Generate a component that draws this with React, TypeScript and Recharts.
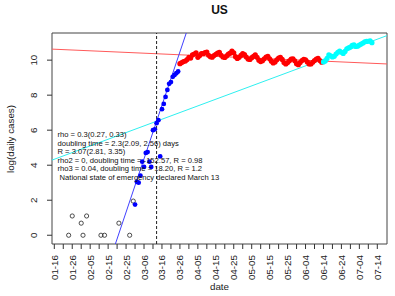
import React from "react";
import {
  ComposedChart,
  Scatter,
  XAxis,
  YAxis,
  ReferenceLine,
  ReferenceArea,
} from "recharts";

// day 0 = 01-16
const DATE_LABELS = [
  "01-16", "01-26", "02-05", "02-15", "02-25", "03-06", "03-16", "03-26",
  "04-05", "04-15", "04-25", "05-05", "05-15", "05-25", "06-04", "06-14",
  "06-24", "07-04", "07-14",
];
const TICK_STEP = 5;
const LABEL_STEP = 10;
const Y_TICKS = [0, 2, 4, 6, 8, 10];

const OPEN_DAYS = [8, 10, 15, 16, 18, 26, 28, 36, 42, 44];
const OPEN_LOGS = [0, 1.1, 0.69, 0, 1.1, 0, 0, 0.69, 0, 1.95];

const BLUE_START = 45;
const BLUE_LOGS = [
  1.75, 3.05, 3.0, 3.4, 4.2, 3.9, 4.7, 4.75, 4.2, 3.9, 6.0, 6.05, 6.4, 6.57,
  4.5, 7.2, 7.5, 7.9, 8.3, 8.65, 8.75, 9.05, 9.15, 9.25, 9.35,
];

const RED_START = 70;
const RED_LOGS = [
  9.8, 9.86, 9.92, 9.95, 10.03, 10.16, 10.12,
  10.3, 10.35, 10.42, 10.16, 10.26, 10.38, 10.37,
  10.43, 10.46, 10.28, 10.2, 10.17, 10.26, 10.33,
  10.4, 10.44, 10.28, 10.18, 10.15, 10.24, 10.34,
  10.4, 10.52, 10.42, 10.2, 10.1, 10.16, 10.28,
  10.38, 10.32, 10.18, 10.06, 10.04, 10.14, 10.22,
  10.3, 10.16, 10.0, 9.92, 9.97, 10.08, 10.18,
  10.22, 10.08, 9.94, 9.84, 9.9, 10.02, 10.12,
  10.16, 10.04, 9.86, 9.78, 9.86, 9.96, 10.06,
  10.08, 9.96, 9.8, 9.74, 9.86, 9.98, 10.04,
  10.02, 9.9, 9.78, 9.78, 9.88, 9.98, 10.06,
  10.1, 9.98, 9.88,
];

const CYAN_START = 150;
const CYAN_LOGS = [
  9.9, 9.95, 10.1, 10.3, 10.25, 10.18, 10.22, 10.35, 10.45, 10.52, 10.45,
  10.38, 10.5, 10.65, 10.7, 10.75, 10.85, 10.88, 10.78, 10.8, 10.86, 10.92,
  10.98, 11.05, 11.07, 11.08, 11.1, 11.0,
];

// log-linear fits: log(cases) = intercept + rho * day
const FIT_1 = { intercept: -10.88, rho: 0.305 };
const FIT_2 = { intercept: 10.624, rho: -0.004543 };
const FIT_3 = { intercept: 4.34, rho: 0.03809 };

const EMERGENCY_DAY = 57;

const NOTES = [
  "rho = 0.3(0.27, 0.33)",
  "doubling time = 2.3(2.09, 2.56) days",
  "R = 3.07(2.81, 3.35)",
  "rho2 = 0, doubling time = -152.57, R = 0.98",
  "rho3 = 0.04, doubling time = 18.20, R = 1.2",
  " National state of emergency declared March 13",
];

const X_DOMAIN: [number, number] = [-1.28, 185.4];
const Y_DOMAIN: [number, number] = [-0.5, 11.55];

const FONT = "'Liberation Sans', Arial, sans-serif";

const toPoints = (days: number[], logs: number[]) =>
  logs.map((v, i) => ({ day: days[i], v }));
const fromStart = (start: number, logs: number[]) =>
  logs.map((v, i) => ({ day: start + i, v }));

const fitSegment = (fit: { intercept: number; rho: number }) =>
  X_DOMAIN.map((d) => ({ x: d, y: fit.intercept + fit.rho * d }));

const tickDays: number[] = [];
for (let d = 0; d <= (DATE_LABELS.length - 1) * LABEL_STEP; d += TICK_STEP) {
  tickDays.push(d);
}

const dot = (color: string, r: number) => (props: any) => (
  <circle cx={props.cx} cy={props.cy} r={r} fill={color} stroke="none" />
);
const openDot = (props: any) => (
  <circle cx={props.cx} cy={props.cy} r={2.1} fill="none" stroke="#222" strokeWidth={0.8} />
);

const XTick = (props: any) => {
  const { x, y, payload } = props;
  if (payload.value % LABEL_STEP !== 0) return null;
  const label = DATE_LABELS[payload.value / LABEL_STEP];
  return (
    <text
      x={x}
      y={y + 4}
      transform={`rotate(-90, ${x}, ${y + 4})`}
      textAnchor="end"
      dy="0.36em"
      fontSize={9.8}
      fontFamily={FONT}
      fill="#222"
    >
      {label}
    </text>
  );
};

const YTick = (props: any) => {
  const { x, y, payload } = props;
  const tx = x - 8;
  return (
    <text
      x={tx}
      y={y}
      transform={`rotate(-90, ${tx}, ${y})`}
      textAnchor="middle"
      fontSize={9.8}
      fontFamily={FONT}
      fill="#222"
    >
      {payload.value}
    </text>
  );
};

export default function App() {
  return (
    <div style={{ position: "absolute", left: 0, top: 0, width: 395, height: 296, background: "#fff" }}>
      <ComposedChart
        width={395}
        height={296}
        margin={{ top: 33, right: 8, bottom: 0, left: 0 }}
      >
        <XAxis
          type="number"
          dataKey="day"
          domain={X_DOMAIN}
          allowDataOverflow
          ticks={tickDays}
          interval={0}
          tickSize={5}
          axisLine={false}
          tickLine={{ stroke: "#333" }}
          tick={<XTick />}
          height={52}
        />
        <YAxis
          type="number"
          dataKey="v"
          domain={Y_DOMAIN}
          allowDataOverflow
          ticks={Y_TICKS}
          interval={0}
          tickSize={5}
          axisLine={false}
          tickLine={{ stroke: "#333" }}
          tick={<YTick />}
          width={52}
        />
        <ReferenceArea
          x1={X_DOMAIN[0]}
          x2={X_DOMAIN[1]}
          y1={Y_DOMAIN[0]}
          y2={Y_DOMAIN[1]}
          fill="none"
          stroke="#444"
          strokeWidth={1}
          ifOverflow="visible"
        />
        <ReferenceLine
          segment={fitSegment(FIT_2)}
          stroke="#ff5a5a"
          strokeWidth={1}
          ifOverflow="hidden"
        />
        <ReferenceLine
          segment={fitSegment(FIT_3)}
          stroke="#2ef0f0"
          strokeWidth={1}
          ifOverflow="hidden"
        />
        <ReferenceLine
          segment={fitSegment(FIT_1)}
          stroke="#4040ff"
          strokeWidth={1}
          ifOverflow="hidden"
        />
        <ReferenceLine
          x={EMERGENCY_DAY}
          stroke="#222"
          strokeDasharray="3 2"
          strokeWidth={1}
        />
        <Scatter
          data={toPoints(OPEN_DAYS, OPEN_LOGS)}
          dataKey="v"
          shape={openDot}
          isAnimationActive={false}
        />
        <Scatter
          data={fromStart(BLUE_START, BLUE_LOGS)}
          dataKey="v"
          shape={dot("#0000ff", 2.4)}
          isAnimationActive={false}
        />
        <Scatter
          data={fromStart(RED_START, RED_LOGS)}
          dataKey="v"
          shape={dot("#ff0000", 2.6)}
          isAnimationActive={false}
        />
        <Scatter
          data={fromStart(CYAN_START, CYAN_LOGS)}
          dataKey="v"
          shape={dot("#00ffff", 2.6)}
          isAnimationActive={false}
        />
      </ComposedChart>
      <svg
        width={395}
        height={296}
        style={{ position: "absolute", left: 0, top: 0, pointerEvents: "none" }}
        fontFamily={FONT}
      >
        <text x={219.5} y={14} textAnchor="middle" fontSize={12} fontWeight="bold" fill="#111">
          US
        </text>
        <text
          x={14}
          y={139}
          transform="rotate(-90, 14, 139)"
          textAnchor="middle"
          fontSize={9.8}
          fill="#222"
        >
          log(daily cases)
        </text>
        <text x={219.5} y={290} textAnchor="middle" fontSize={9.8} fill="#222">
          date
        </text>
        {NOTES.map((line, i) => (
          <text
            key={i}
            x={57.5}
            y={137 + i * 8.5}
            fontSize={7.6}
            fill="#111"
            style={{ whiteSpace: "pre" }}
          >
            {line}
          </text>
        ))}
      </svg>
    </div>
  );
}
